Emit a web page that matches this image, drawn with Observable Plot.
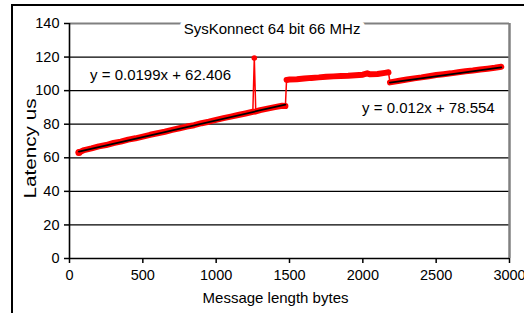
<!DOCTYPE html>
<html>
<head>
<meta charset="utf-8">
<script src="https://cdn.jsdelivr.net/npm/d3@7"></script>
<script src="https://cdn.jsdelivr.net/npm/@observablehq/plot@0.6"></script>
<style>
  html, body { margin: 0; padding: 0; background: #fff; overflow: hidden; }
  #wrap { position: relative; width: 524px; height: 313px; overflow: hidden; }
  #border { position: absolute; left: 11px; top: 4px; width: 700px; height: 500px;
            border-top: 2px solid #000; border-left: 2px solid #000; pointer-events: none; }
</style>
</head>
<body>
<div id="wrap"><div id="border"></div></div>
<script>
// ---- data ----
const xTicks = [0, 500, 1000, 1500, 2000, 2500, 3000];
const yTicks = [0, 20, 40, 60, 80, 100, 120, 140];
const gridValues = [20, 40, 60, 80, 100, 120];

const seg1Bytes = [64,100,150,200,250,300,350,400,450,500,550,600,650,700,750,800,850,900,950,1000,1050,1100,1150,1200,1250,1270,1300,1350,1400,1450,1472];
const seg1Lat   = [63.2,64.6,65.6,66.8,67.6,68.8,69.6,70.8,71.6,72.6,73.7,74.6,75.5,76.6,77.6,78.6,79.4,80.6,81.5,82.6,83.6,84.5,85.5,86.4,87.4,87.6,88.4,89.3,90.2,91.0,90.8];

const spikeBytes = [1260];
const spikeLat   = [119.4];

const seg2Bytes = [1480,1500,1550,1600,1650,1700,1750,1800,1850,1900,1950,2000,2030,2050,2100,2150,2175];
const seg2Lat   = [106.4,106.6,106.8,107.2,107.6,107.9,108.3,108.5,108.7,108.9,109.2,109.5,110.3,109.7,109.9,110.6,110.9];

const seg3Bytes = [2185,2250,2300,2350,2400,2450,2500,2550,2600,2650,2700,2750,2800,2850,2900,2944];
const seg3Lat   = [104.9,105.9,106.6,107.3,107.9,108.6,109.3,109.8,110.3,110.9,111.5,112.0,112.6,113.1,113.6,114.2];

const trendSlopes = [0.0199, 0.012];
const trendIntercepts = [62.406, 78.554];
const trendLabels = ["y = 0.0199x + 62.406", "y = 0.012x + 78.554"];

const titleText = "SysKonnect 64 bit 66 MHz";
const xLabel = "Message length bytes";
const yLabel = "Latency us";

// ---- build tables ----
const mk = (xs, ys, seg) => xs.map((x, i) => ({x, y: ys[i], seg}));
const s1 = mk(seg1Bytes, seg1Lat, 1);
const s2 = mk(seg2Bytes, seg2Lat, 2);
const s3 = mk(seg3Bytes, seg3Lat, 3);
const spike = mk(spikeBytes, spikeLat, 0);
const all = [...s1, ...spike, ...s2, ...s3].sort((a, b) => a.x - b.x);
const thick = [...s1, ...s2, ...s3];

const trendRanges = [d3.extent(seg1Bytes), d3.extent(seg3Bytes)];
const trend = trendRanges.flatMap((r, k) =>
  r.map(x => ({x, y: trendSlopes[k] * x + trendIntercepts[k], k})));

const FONT = "'Liberation Sans', Arial, sans-serif";

const chart = Plot.plot({
  width: 524,
  height: 313,
  marginLeft: 69,
  marginRight: 15,
  marginTop: 23,
  marginBottom: 55,
  style: {fontFamily: FONT, fontSize: "14.5px", color: "#000", background: "transparent", overflow: "visible"},
  x: {domain: [0, 3000]},
  y: {domain: [0, 140]},
  marks: [
    Plot.ruleY(gridValues, {stroke: "#000", strokeWidth: 1.2}),
    Plot.ruleY([140], {stroke: "#808080", strokeWidth: 2}),
    Plot.ruleX([3000], {stroke: "#808080", strokeWidth: 2.5}),
    Plot.axisY({ticks: yTicks, tickSize: 5, tickPadding: 5, tickFormat: d => String(d), stroke: "#000", strokeWidth: 1.5, label: null, fontSize: 14.5}),
    Plot.axisX({ticks: xTicks, tickSize: 5, tickPadding: 6, tickFormat: d => String(d), stroke: "#000", strokeWidth: 1.5, label: null, fontSize: 14.5}),
    Plot.ruleY([0], {stroke: "#000", strokeWidth: 1.6}),
    Plot.ruleX([0], {stroke: "#000", strokeWidth: 1.6}),
    // red series
    Plot.line(all, {x: "x", y: "y", stroke: "#ff0000", strokeWidth: 1.5}),
    Plot.line(thick, {x: "x", y: "y", z: "seg", stroke: "#ff0000", strokeWidth: 6, strokeLinecap: "round", strokeLinejoin: "round"}),
    Plot.dot(spike, {x: "x", y: "y", r: 2.8, fill: "#ff0000", stroke: "none"}),
    Plot.dot([s1[0]], {x: "x", y: "y", r: 3.5, fill: "#ff0000", stroke: "none"}),
    // trendlines
    Plot.line(trend, {x: "x", y: "y", z: "k", stroke: "#000", strokeWidth: 1.7}),
    Plot.text([trendLabels[0]], {x: 140, y: 109, textAnchor: "start", fontSize: 15, fill: "#000"}),
    Plot.text([trendLabels[1]], {x: 1995, y: 89.4, textAnchor: "start", fontSize: 15, fill: "#000"}),
    // title over the top border
    Plot.text([titleText], {frameAnchor: "top", dx: -17.5, fontSize: 15, fill: "#000",
      stroke: "#fff", strokeWidth: 10, paintOrder: "stroke"}),
    // axis titles
    Plot.text([yLabel], {frameAnchor: "left", dx: -39, dy: 57.5, rotate: -90, textAnchor: "start", fontSize: 16, fill: "#000"}),
    Plot.text([xLabel], {frameAnchor: "bottom", dx: -14, dy: 44, fontSize: 15, fill: "#000"})
  ]
});
d3.select(chart).selectAll("text")
  .filter(function () { return this.textContent === yLabel; })
  .attr("textLength", 100).attr("lengthAdjust", "spacingAndGlyphs");
chart.style.position = "absolute";
chart.style.left = "0px";
chart.style.top = "0px";
document.getElementById("wrap").insertBefore(chart, document.getElementById("border"));
</script>
</body>
</html>
